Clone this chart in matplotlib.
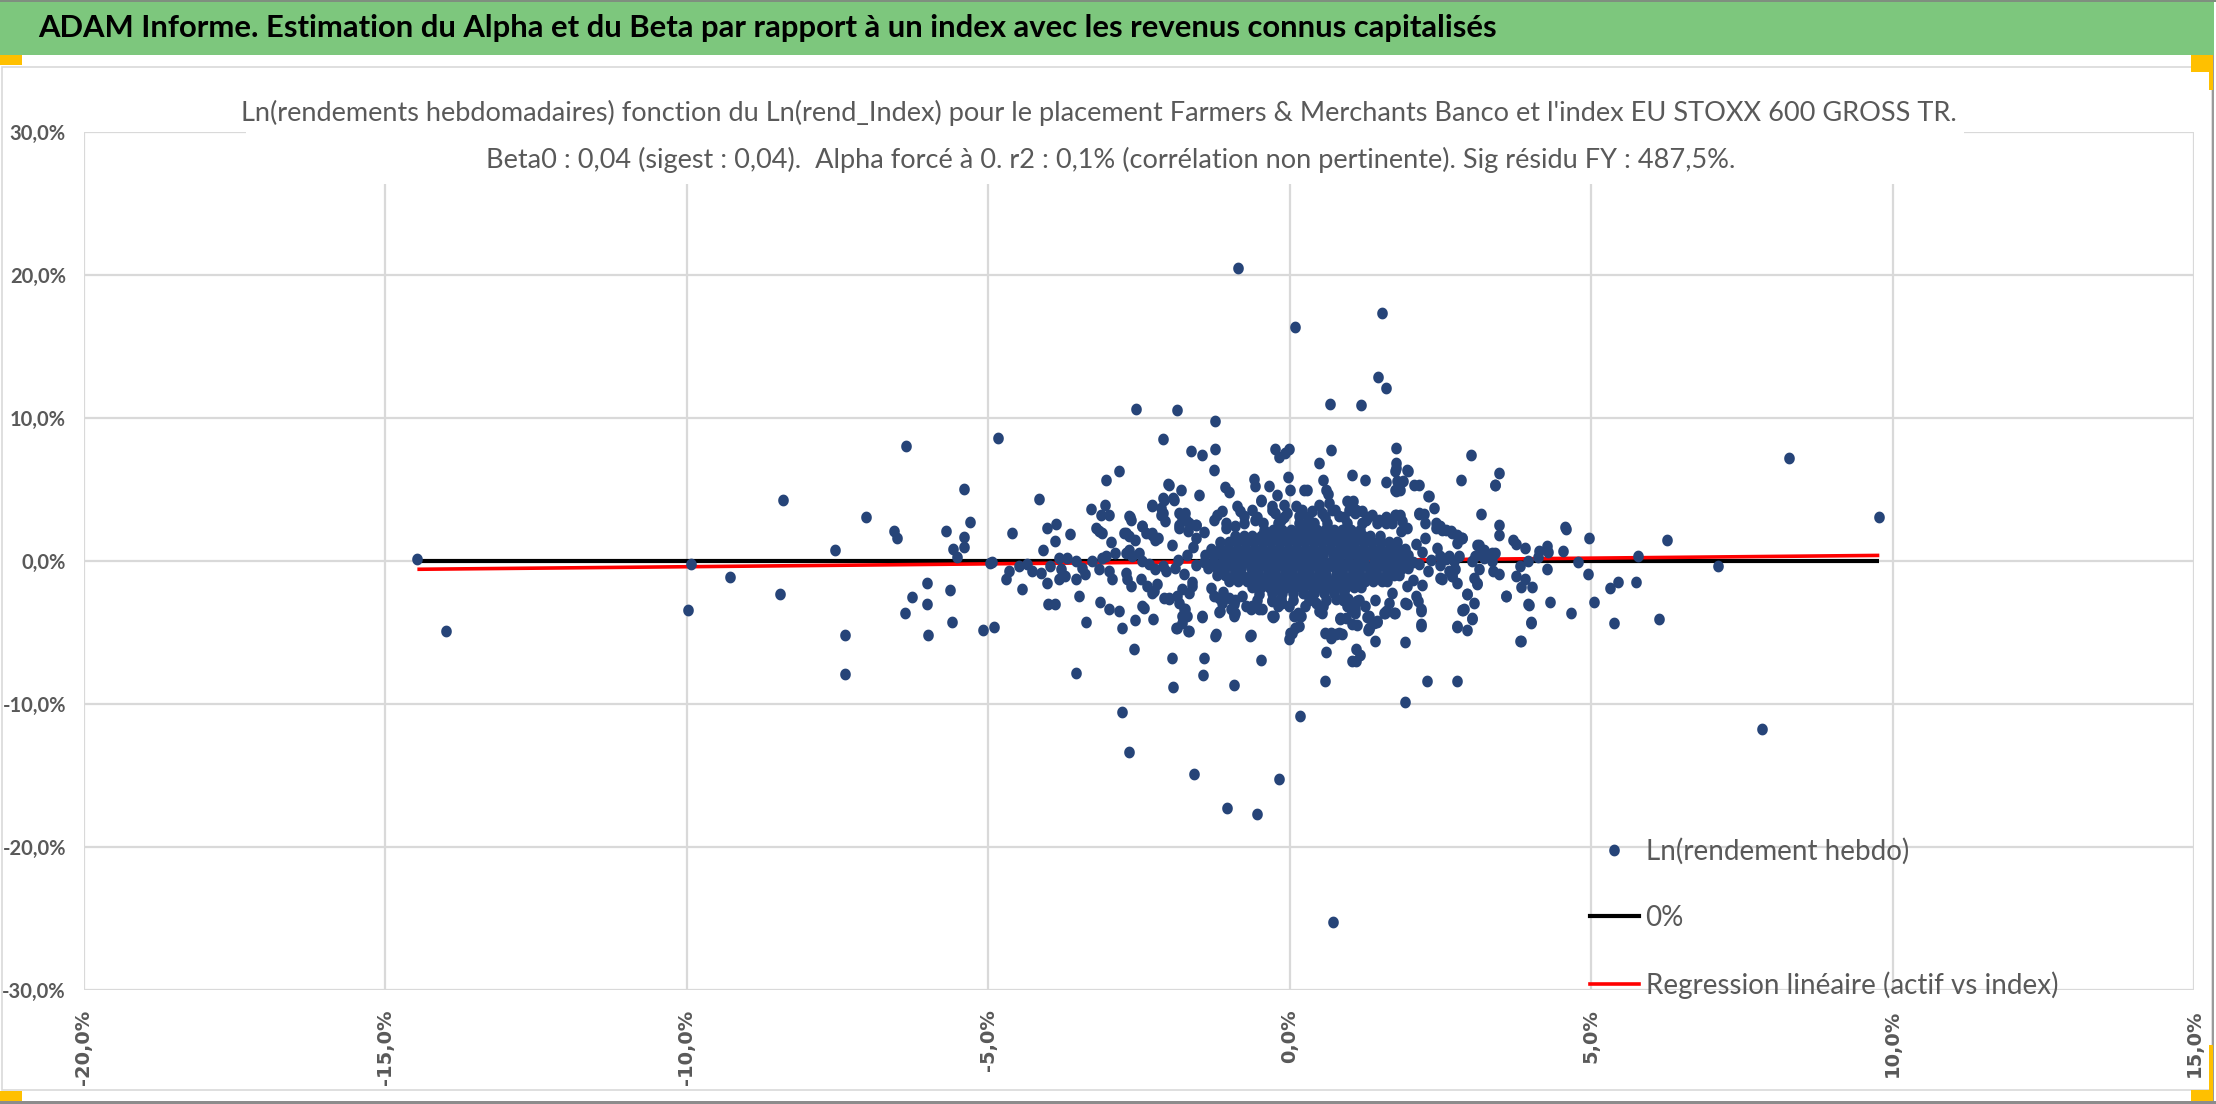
import matplotlib
matplotlib.use("Agg")
import matplotlib.pyplot as plt
from matplotlib.patches import Rectangle
from matplotlib.path import Path
from matplotlib.lines import Line2D
from matplotlib.ticker import FuncFormatter, FixedLocator
import numpy as np

# ---------------- data ----------------
header_text = ("ADAM Informe. Estimation du Alpha et du Beta par rapport à un index "
               "avec les revenus connus capitalisés")
title_line1 = ("Ln(rendements hebdomadaires) fonction du Ln(rend_Index) pour le placement "
               "Farmers & Merchants Banco et l'index EU STOXX 600 GROSS TR.")
title_line2 = ("Beta0 : 0,04 (sigest : 0,04).  Alpha forcé à 0. r2 : 0,1% "
               "(corrélation non pertinente). Sig résidu FY : 487,5%.")
legend_labels = ["Ln(rendement hebdo)", "0%", "Regression linéaire (actif vs index)"]
x_ticks = [-20, -15, -10, -5, 0, 5, 10, 15]
y_ticks = [-30, -20, -10, 0, 10, 20, 30]
beta0 = 0.04

# scattered points (x = Ln(rend_Index) %, y = Ln(rendement hebdo) %)
outer_points = [
    (-14.47, 0.15), (-13.99, -4.93), (-9.93, -0.2), (-9.98, -3.43), (-9.28, -1.1),
    (-8.41, 4.26), (-8.45, -2.29), (-7.55, 0.75), (-7.38, -5.17), (-7.38, -7.91),
    (-7.03, 3.05), (-6.57, 2.13), (-6.52, 1.62), (-6.37, 8.03), (-6.01, -1.57),
    (-6.27, -2.54), (-6.38, -3.64), (-6.01, -3.0), (-6.0, -5.17), (-5.7, 2.13),
    (-5.4, 5.05), (-5.31, 2.73), (-5.41, 1.66), (-5.59, 0.85), (-5.4, 0.99),
    (-5.52, 0.29), (-5.64, -2.06), (-5.61, -4.29), (-5.09, -4.84), (-4.9, -4.61),
    (-4.97, -0.14), (-4.84, 8.59),
    (-0.85, 20.47), (0.08, 16.39), (1.53, 17.37), (1.47, 12.88), (1.59, 12.09),
    (0.67, 10.98), (1.18, 10.91), (-2.55, 10.65), (-1.87, 10.56), (-1.24, 9.77),
    (-2.1, 8.56), (8.28, 7.21), (-1.63, 7.7), (-1.45, 7.44), (-1.24, 7.84),
    (-1.25, 6.35), (-0.24, 7.86), (-0.17, 7.26), (-0.08, 7.58), (-0.02, 7.82),
    (0.68, 7.77), (0.48, 6.82), (1.77, 7.89), (1.76, 6.84), (1.76, 6.47),
    (1.95, 6.35), (3.0, 7.44), (3.47, 6.17), (3.4, 5.28), (2.84, 5.68),
    (-2.83, 6.26), (-3.05, 5.63), (-4.16, 4.36), (-2.01, 5.34), (-1.8, 4.98),
    (-1.51, 4.59), (-2.1, 4.38), (-1.94, 4.38), (-2.29, 3.87), (-2.13, 3.7),
    (-3.3, 3.64), (-3.06, 3.89), (-3.13, 3.24), (-3.0, 3.24), (-2.65, 3.08),
    (-0.6, 5.73), (-0.58, 5.21), (-0.34, 5.21), (-0.21, 4.59), (-0.03, 5.87),
    (0.0, 4.98), (-1.07, 5.17), (-1.0, 4.82), (-0.48, 4.29), (0.24, 4.96),
    (0.29, 4.96), (0.55, 5.63), (0.61, 4.98), (0.64, 4.68), (1.03, 6.0),
    (1.25, 5.68), (1.59, 5.52), (1.88, 5.59), (1.83, 4.98), (2.14, 5.28),
    (1.05, 4.17), (2.3, 4.52), (2.39, 3.71), (3.17, 3.29), (3.47, 2.54),
    (4.57, 2.36), (2.22, 3.29), (1.83, 3.19),
    (-2.59, -6.12), (-3.55, -7.82), (-1.95, -6.77), (-1.42, -6.77), (-1.44, -7.98),
    (-1.93, -8.79), (-0.92, -8.7), (-0.48, -6.93), (0.6, -6.38), (0.58, -8.37),
    (1.03, -6.98), (1.1, -6.98), (1.16, -6.59), (1.1, -6.12), (1.91, -5.63),
    (1.42, -5.59), (2.28, -8.37), (2.78, -8.37), (1.91, -9.88), (3.82, -5.59),
    (5.38, -4.31), (6.13, -4.08), (4.67, -3.61), (4.01, -4.31), (3.97, -3.05),
    (4.32, -2.87), (5.05, -2.87), (-2.79, -10.53), (0.17, -10.84), (-2.66, -13.39),
    (-1.59, -14.93), (-0.18, -15.25), (-1.04, -17.25), (-0.54, -17.71), (0.72, -25.21),
    (7.84, -11.72), (2.77, -4.61), (2.94, -4.82), (3.02, -4.01), (2.88, -3.43),
    (3.06, -2.94), (2.17, -4.54), (2.18, -3.5), (2.13, -2.8), (1.73, -3.66),
    (1.58, -3.61), (1.45, -4.26), (1.4, -4.31), (1.3, -4.82), (1.29, -3.89),
    (1.11, -4.47), (1.08, -3.38), (0.93, -4.01), (0.86, -5.12), (0.76, -5.12),
    (0.68, -5.0), (0.69, -5.4), (0.09, -4.72), (0.03, -5.0), (-0.01, -5.47),
    (0.18, -3.85), (0.14, -3.61), (0.48, -3.5), (-0.27, -3.89), (-0.66, -5.24),
    (-1.24, -5.24), (-1.69, -4.93), (-1.87, -4.7), (-1.46, -3.89), (-1.77, -3.96),
    (-1.78, -4.31), (-1.18, -3.57), (-0.93, -3.73), (-0.64, -3.38), (-0.51, -3.38),
    (-2.26, -4.08), (-2.57, -4.15), (-2.79, -4.7), (-2.83, -3.5), (-2.99, -3.33),
    (-3.38, -4.24), (-2.42, -3.26), (-4.01, -3.03), (-3.9, -3.03), (-3.15, -2.87),
    (9.78, 3.05), (7.11, -0.38), (6.26, 1.45), (5.78, 0.33), (5.74, -1.5),
    (5.44, -1.5), (5.32, -1.92), (4.95, -0.94), (4.97, 1.62), (4.78, -0.06),
    (4.58, 2.26), (4.53, 0.73), (4.27, 1.08), (4.28, 0.64), (4.26, -0.54),
    (4.14, 0.68), (4.12, 0.26), (3.96, 0.01), (3.82, -0.38), (3.9, 0.92),
    (3.7, 1.5), (3.76, 1.22), (3.75, -1.03), (3.9, -1.24), (3.84, -1.82),
    (4.02, -1.82), (3.59, -2.45), (3.96, -3.01), (4.0, -4.29), (3.83, -5.56),
    (3.47, -0.94), (3.47, 1.8),
    (1.76, 4.87), (2.31, 4.52), (2.14, 3.31), (1.76, 3.24),
    (3.11, 1.15), (3.19, 0.8), (3.3, 0.45), (3.41, 0.57), (3.36, -0.01),
    (3.22, 0.22), (3.08, 0.34), (3.02, -0.01), (3.14, -0.59), (3.05, -1.17),
    (3.11, -1.64), (3.37, -0.71), (2.94, -2.33), (2.86, -3.42),
    (2.5, -1.17), (2.64, -0.71), (2.75, -0.59), (2.78, -1.52), (2.7, -1.06),
    (2.86, 1.62), (2.78, 1.27), (2.7, 1.96), (2.59, 2.2), (2.5, 2.43), (2.42, 2.66),
    (2.81, 0.34), (2.72, -0.01), (2.64, 0.34), (2.59, 0.11), (2.5, 0.34),
    (1.95, -3.03), (1.59, -3.49), (1.31, -4.66), (1.03, -4.42), (0.84, -3.96),
    (1.01, -3.38), (1.12, -2.8), (0.97, -2.68), (0.76, -2.68),
    (-2.64, 2.89), (-2.14, 3.24), (-2.07, 2.78), (-1.73, 3.36), (-1.78, 3.01),
    (-1.67, 2.66), (-1.56, 2.54), (-1.84, 2.31),
    (-4.6, 1.96), (-4.02, 2.31), (-3.88, 2.61), (-3.65, 1.89), (-3.9, 1.38),
    (-4.09, 0.8), (-3.22, 2.31), (-3.17, 2.08), (-3.11, 1.96), (-2.96, 1.31),
    (-2.72, 1.96), (-2.67, 1.73), (-2.56, 1.5), (-2.45, 2.43), (-2.39, 1.96),
    (-2.28, 1.85), (-2.23, 1.5), (-2.9, 0.57), (-3.05, 0.34), (-2.72, 0.57),
    (-2.67, 0.8), (-4.94, -0.08), (-4.66, -0.71), (-4.71, -1.29), (-4.49, -0.36),
    (-4.35, -0.24), (-4.27, -0.71), (-4.13, -0.82), (-4.44, -1.99), (-4.02, -1.52),
    (-3.83, 0.22), (-3.69, 0.22), (-3.97, -0.36), (-3.8, -0.59), (-3.72, -1.06),
    (-3.83, -1.29), (-3.54, -1.29), (-3.54, -0.01), (-3.44, -0.48), (-3.39, -0.94),
    (-3.28, -0.01), (-3.11, 0.22), (-3.17, -0.59), (-3.0, -0.71), (-2.94, -1.29),
    (-3.49, -2.45),
    (-2.72, -0.82), (-2.7, -1.29), (-2.64, -1.75), (-2.47, -1.29), (-2.36, -1.75),
    (-2.25, -2.1), (-2.2, -1.64), (-2.61, 0.34), (-2.5, 0.57), (-2.45, -0.01),
    (-2.34, -0.24), (-2.23, -0.59), (-2.11, -0.36), (-2.06, -0.71), (-2.0, -2.57),
    (-1.87, -2.45), (-1.78, -1.99), (-1.67, -2.22), (-1.62, -1.75), (-1.89, -4.66),
    (-1.78, -3.84), (-1.73, -3.38), (-1.67, -4.89), (-1.45, -3.84), (-1.23, -5.12),
    (-1.15, -3.5), (-1.17, -2.57), (-1.01, -2.57), (-0.9, -3.61), (-0.93, -3.03),
    (-0.65, -5.17), (-0.26, -3.84), (-0.73, -3.15), (-0.57, -3.15), (-0.51, -2.33),
    (-0.29, -2.8), (-0.12, -2.91), (-0.18, -1.99),
    # flanks of the dense core
    (-1.6, 1.0), (-1.7, 0.4), (-1.55, -0.3), (-1.75, -0.9), (-1.62, -1.5),
    (-1.85, 0.1), (-1.9, -0.5), (-1.55, 1.6), (-1.95, 1.1), (-1.42, 2.05),
    (-1.3, -1.9), (-1.05, 2.3), (-1.1, -2.2),
    (2.1, 1.2), (2.2, 0.6), (2.15, -0.2), (2.3, -0.7), (2.05, -1.3),
    (2.35, 0.1), (2.45, 0.9), (2.25, 1.6), (2.5, -0.3), (2.2, -1.7),
    (1.85, 2.1), (1.95, -1.75), (1.7, -2.25),
    # band above the core
    (-2.02, 5.4), (1.75, 6.26), (1.96, 6.26), (1.78, 5.56), (1.75, 4.98), (2.06, 5.33),
    (3.41, 5.33), (-2.28, 3.94), (-2.11, 3.36), (-2.09, 4.29), (-1.92, 4.29),
    (-1.84, 3.36), (-1.72, 2.89), (-1.84, 2.54), (-1.68, 2.08), (-1.55, 2.54),
    (-2.66, 3.12), (-2.45, 2.43), (-2.75, 1.96), (-2.28, 1.96), (-2.18, 1.61),
    (-1.26, 2.89), (-1.2, 3.24), (-1.12, 3.47), (-1.06, 2.66), (-0.87, 3.82),
    (-0.82, 3.47), (-0.76, 3.12), (-0.9, 2.43), (-0.62, 3.59), (-0.57, 2.89),
    (-0.48, 4.17), (-0.29, 3.82), (-0.24, 3.36), (-0.15, 2.89), (-0.1, 3.94),
    (-0.04, 3.36), (0.1, 3.82), (0.15, 3.12), (0.26, 2.54), (0.37, 3.47),
    (0.48, 3.94), (0.54, 3.36), (0.65, 4.05), (0.7, 3.59), (0.81, 3.12),
    (0.95, 4.17), (0.98, 3.59), (1.09, 3.36), (1.2, 3.47), (1.26, 2.89),
    (1.37, 3.24), (1.48, 2.89), (1.59, 2.66), (1.75, 3.24), (1.86, 2.77),
    (1.95, 2.31), (2.14, 3.36), (2.25, 2.66), (2.42, 2.31), (2.53, 2.19),
    (2.67, 2.08), (2.78, 1.85), (2.86, 1.61), (3.14, 1.15), (3.22, 0.8), (3.36, 0.57),
    # band below the core
    (-2.45, -3.15), (-2.28, -2.22), (-2.09, -2.57), (-2.0, -2.68), (-1.84, -2.92),
    (-1.76, -3.38), (-1.7, -3.85), (-1.26, -2.45), (-1.12, -2.92), (-0.98, -3.38),
    (-0.93, -3.85), (-0.79, -2.45), (-0.62, -3.15), (-0.46, -3.38), (-0.29, -3.85),
    (-0.15, -2.57), (-0.01, -3.15), (0.07, -3.85), (0.15, -4.54), (0.01, -5.0),
    (0.32, -2.45), (0.43, -2.92), (0.54, -3.61), (0.59, -5.01), (0.7, -5.12),
    (0.81, -5.01), (0.84, -4.08), (0.98, -3.15), (1.12, -2.8), (1.09, -3.61),
    (1.31, -3.85), (1.31, -4.77), (1.45, -4.19), (1.56, -3.61), (1.64, -2.92),
    (1.75, -3.61), (1.92, -2.92), (2.09, -2.45), (2.17, -3.38), (2.17, -4.42),
    (2.53, -1.29), (2.69, -1.06), (2.78, -4.54), (2.89, -3.38), (3.03, -4.08),
    (2.94, -2.33), (3.11, -1.52), (3.58, -2.45),
]

# dense core of the cloud, read row by row: (y, [x values])
core_rows = [
    (3.6, [-0.3, 0.2, 0.75, 1.1]),
    (3.1, [-0.55, -0.1, 0.3, 0.58, 0.9, 1.3, 1.6]),
    (2.65, [-0.75, -0.45, -0.2, 0.15, 0.4, 0.62, 0.95, 1.2, 1.45, 1.7]),
    (2.2, [-0.42, -0.27, -0.13, 0.02, 0.17, 0.3, 0.45, 0.58, 0.73, 0.86, 1.01, 1.16]),
    (1.75, [-0.9, -0.75, -0.62, -0.47, -0.34, -0.2, -0.05, 0.08, 0.23, 0.36, 0.5, 0.65,
            0.78, 0.93, 1.06, 1.21, 1.34, 1.49]),
    (1.3, [-1.15, -1.0, -0.87, -0.72, -0.59, -0.44, -0.31, -0.16, -0.03, 0.12, 0.25, 0.4,
           0.53, 0.68, 0.81, 0.96, 1.09, 1.24, 1.37, 1.52, 1.65, 1.78]),
    (0.85, [-1.31, -1.16, -1.02, -0.87, -0.74, -0.59, -0.46, -0.31, -0.18, -0.03, 0.1, 0.25,
            0.38, 0.53, 0.66, 0.81, 0.94, 1.09, 1.22, 1.37, 1.5, 1.65, 1.78, 1.91]),
    (0.4, [-1.41, -1.26, -1.12, -0.97, -0.84, -0.69, -0.56, -0.41, -0.28, -0.13, 0.0, 0.15,
           0.28, 0.43, 0.56, 0.71, 0.84, 0.99, 1.12, 1.27, 1.4, 1.55, 1.68, 1.83, 1.97]),
    (-0.05, [-1.42, -1.28, -1.13, -1.0, -0.85, -0.72, -0.57, -0.44, -0.29, -0.16, -0.01, 0.12,
             0.27, 0.4, 0.55, 0.68, 0.83, 0.96, 1.11, 1.24, 1.39, 1.52, 1.67, 1.8, 1.95, 2.04]),
    (-0.5, [-1.36, -1.21, -1.08, -0.93, -0.8, -0.65, -0.52, -0.37, -0.24, -0.09, 0.04, 0.19,
            0.32, 0.47, 0.6, 0.75, 0.88, 1.03, 1.16, 1.31, 1.44, 1.59, 1.72, 1.87, 1.96]),
    (-0.95, [-1.21, -1.07, -0.92, -0.79, -0.64, -0.51, -0.36, -0.23, -0.08, 0.05, 0.2, 0.33,
             0.48, 0.61, 0.76, 0.89, 1.04, 1.17, 1.32, 1.45, 1.6, 1.73, 1.82]),
    (-1.4, [-1.0, -0.86, -0.71, -0.58, -0.43, -0.3, -0.15, -0.02, 0.13, 0.26, 0.41, 0.54,
            0.69, 0.82, 0.97, 1.1, 1.25, 1.38, 1.53, 1.61]),
    (-1.85, [-0.62, -0.47, -0.34, -0.19, -0.06, 0.09, 0.22, 0.37, 0.5, 0.65, 0.78, 0.93,
             1.06, 1.19]),
    (-2.25, [-0.3, -0.12, 0.05, 0.22, 0.4, 0.57, 0.74, 0.9]),
    (-2.7, [-0.9, -0.55, -0.3, 0.05, 0.32, 0.6, 0.88, 1.15, 1.42]),
    (-3.15, [-0.6, -0.2, 0.25, 0.55, 0.95, 1.25]),
]

pts_x = [p[0] for p in outer_points]
pts_y = [p[1] for p in outer_points]
for yv, xs in core_rows:
    pts_x.extend(xs)
    pts_y.extend([yv] * len(xs))
pts_x = np.array(pts_x)
pts_y = np.array(pts_y)

# ---------------- figure ----------------
W, H, DPI = 2216, 1104, 100
fig = plt.figure(figsize=(W / DPI, H / DPI), dpi=DPI)
fig.patch.set_facecolor("white")
CAL = ["Lato", "DejaVu Sans"]
GREY = "#595959"
BLUE = "#264478"


def px_rect(x0, y0, x1, y1, **kw):
    r = Rectangle((x0 / W, 1 - y1 / H), (x1 - x0) / W, (y1 - y0) / H,
                  transform=fig.transFigure, **kw)
    fig.patches.append(r)
    return r


# outer chart area frame and header band
px_rect(2, 67, 2212, 1090, facecolor="none", edgecolor="#D9D9D9", lw=1.2, zorder=0.5)
px_rect(0, 0, 2214, 55, facecolor="#7DC77D", edgecolor="none", zorder=0.6)
px_rect(0, 0, 2216, 2, facecolor="#7f8f7f", edgecolor="none", zorder=0.7)
px_rect(0, 1101, 2216, 1104, facecolor="#8c8c8c", edgecolor="none", zorder=0.7)
px_rect(2212, 55, 2214, 1101, facecolor="#9a9a9a", edgecolor="none", zorder=0.7)
# selection handles
for (a, b, c, d) in [(0, 55, 22, 65), (2191, 55, 2213, 72), (2209, 72, 2213, 90),
                     (0, 1091, 22, 1101), (2209, 1045, 2213, 1090), (2191, 1090, 2213, 1101)]:
    px_rect(a, b, c, d, facecolor="#FFC000", edgecolor="none", zorder=5)

# axes
L, R, T, B = 84, 2194, 132, 990
ax = fig.add_axes([L / W, 1 - B / H, (R - L) / W, (B - T) / H])
ax.set_xlim(-20, 15)
ax.set_ylim(-30, 30)
for s in ax.spines.values():
    s.set_visible(False)
ax.xaxis.set_major_locator(FixedLocator(x_ticks))
ax.yaxis.set_major_locator(FixedLocator(y_ticks))
fmt = FuncFormatter(lambda v, p: ("%.1f" % v).replace(".", ",") + "%")
ax.xaxis.set_major_formatter(fmt)
ax.yaxis.set_major_formatter(fmt)
ax.grid(True, color="#D9D9D9", lw=1.6, zorder=0)
ax.set_axisbelow(True)
ax.tick_params(axis="both", length=0)
ax.tick_params(axis="x", labelrotation=90, pad=14)
ax.tick_params(axis="y", pad=13)
for lab in ax.get_xticklabels():
    lab.set_fontfamily("DejaVu Sans")
    lab.set_fontweight("bold")
    lab.set_fontsize(14)
    lab.set_color(GREY)
for lab in ax.get_yticklabels():
    lab.set_fontfamily(CAL)
    lab.set_fontweight("bold")
    lab.set_fontsize(14.5)
    lab.set_color(GREY)

# near-round marker, a touch taller than wide
t = np.linspace(0, 2 * np.pi, 41)
ell = Path(np.column_stack([0.45 * np.cos(t), 0.5 * np.sin(t)]), closed=True)
MS = 8.5

xmin, xmax = pts_x.min(), pts_x.max()
ax.plot([xmin, xmax], [0, 0], color="black", lw=3.0, zorder=2, solid_capstyle="butt")
ax.plot([xmin, xmax], [beta0 * xmin, beta0 * xmax], color="#FF0000", lw=2.6, zorder=2.1,
        solid_capstyle="butt")
ax.plot(pts_x, pts_y, linestyle="none", marker=ell, ms=MS, mfc=BLUE, mec=BLUE,
        mew=0.0, zorder=3)

renderer = fig.canvas.get_renderer()


def fit(txt, width_px):
    bb = txt.get_window_extent(renderer)
    txt.set_fontsize(txt.get_fontsize() * width_px / bb.width)


# header
h = fig.text(38 / W, 1 - 28 / H, header_text, fontfamily=CAL, fontweight="bold",
             fontsize=20, color="black", ha="left", va="center", zorder=6)
fit(h, 1458)

# chart title box + text
px_rect(246, 88, 1964, 184, facecolor="white", edgecolor="none", zorder=1)
t1 = fig.text(1099 / W, 1 - 113 / H, title_line1, fontfamily=CAL, fontsize=20, color=GREY,
              ha="center", va="center", zorder=6)
fit(t1, 1717)
t2 = fig.text(1111 / W, 1 - 160 / H, title_line2, fontfamily=CAL, fontsize=t1.get_fontsize(),
              color=GREY, ha="center", va="center", zorder=6)

# legend
handles = [Line2D([], [], linestyle="none", marker=ell, ms=MS, mfc=BLUE, mec=BLUE, mew=0),
           Line2D([], [], color="black", lw=3.0),
           Line2D([], [], color="#FF0000", lw=2.6)]
leg_fs = 20
leg = ax.legend(handles, legend_labels, loc="upper left",
                bbox_to_anchor=(1590 / W, 1 - 838 / H), bbox_transform=fig.transFigure,
                frameon=False, fontsize=leg_fs, handlelength=1.75, handletextpad=0.25,
                labelspacing=1.45, borderpad=0, borderaxespad=0)
for txt in leg.get_texts():
    txt.set_color(GREY)
    txt.set_fontfamily(CAL)

fig.savefig("out.png", dpi=DPI)
